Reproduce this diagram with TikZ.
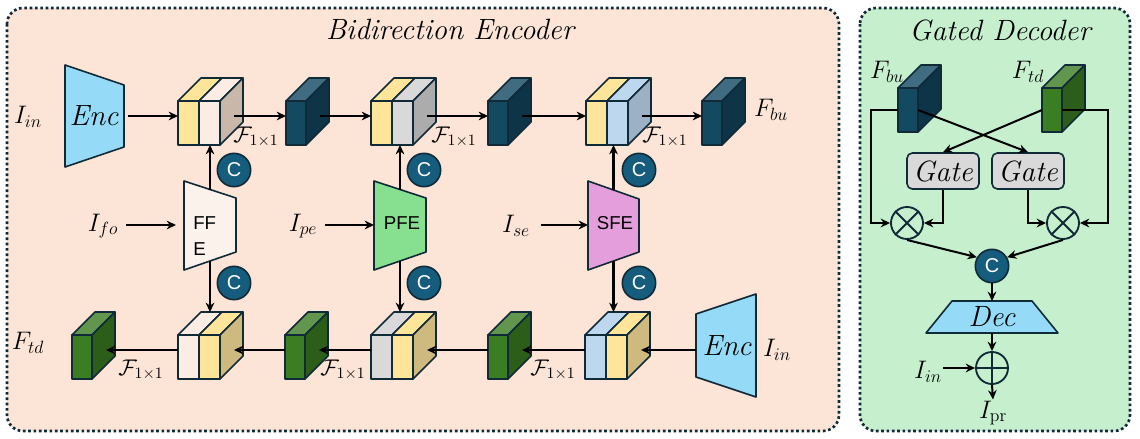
\RequirePackage{fix-cm}
\documentclass[tikz,border=0pt]{standalone}
\usepackage{fontspec}
\newfontfamily\arialfont{Liberation Sans}
\usetikzlibrary{arrows.meta}

% feature cube made of two slabs
\newcommand{\twocube}[6]{%
  \node[slab,#4] (#1a) at (#2,#3) {};
  \node[slab,#5] (#1b) at (#1a.north east) {};
  \draw[outl,#4] (#1a.north west) -- ++(23,-23) -- ++(21,0) -- (#1a.north east) -- cycle;
  \draw[outl,#5] (#1b.north west) -- ++(23,-23) -- ++(21,0) -- (#1b.north east) -- cycle;
  \draw[outl,#6] (#1b.north east) -- ++(23,-23) -- ++(0,44) -- (#1b.south east) -- cycle;
  \path (#1b.north east) ++(14,15) coordinate (#1o);
  \path (#1a.north west) ++(0,-23) coordinate (#1t);
}
% single feature cube
\newcommand{\onecube}[6]{%
  \node[slab,minimum width=15pt,#4] (#1) at (#2,#3) {};
  \draw[outl,#6] (#1.north west) -- ++(23,-23) -- ++(20,0) -- (#1.north east) -- cycle;
  \draw[outl,#5] (#1.north east) -- ++(23,-23) -- ++(0,44) -- (#1.south east) -- cycle;
  \path (#1.north east) ++(14,15) coordinate (#1o);
}

\begin{document}
\begin{tikzpicture}[x=0.75pt,y=0.75pt,yscale=-1,
  outl/.style={draw={rgb, 255:red, 16; green, 42; blue, 56},line width=1.2pt,line join=round},
  slab/.style={outl,anchor=north west,inner sep=0pt,outer sep=0pt,minimum width=15.75pt,minimum height=33pt},
  yel/.style={fill={rgb, 255:red, 255; green, 229; blue, 153}},
  peach/.style={fill={rgb, 255:red, 251; green, 236; blue, 228}},
  peachsd/.style={fill={rgb, 255:red, 201; green, 183; blue, 170}},
  gry/.style={fill={rgb, 255:red, 217; green, 217; blue, 217}},
  grysd/.style={fill={rgb, 255:red, 172; green, 172; blue, 172}},
  lblu/.style={fill={rgb, 255:red, 189; green, 215; blue, 238}},
  lblusd/.style={fill={rgb, 255:red, 156; green, 177; blue, 197}},
  tansd/.style={fill={rgb, 255:red, 206; green, 186; blue, 126}},
  navyf/.style={fill={rgb, 255:red, 20; green, 73; blue, 98}},
  navys/.style={fill={rgb, 255:red, 14; green, 52; blue, 72}},
  navyt/.style={fill={rgb, 255:red, 64; green, 108; blue, 130}},
  grnf/.style={fill={rgb, 255:red, 59; green, 125; blue, 35}},
  grns/.style={fill={rgb, 255:red, 44; green, 94; blue, 26}},
  grnt/.style={fill={rgb, 255:red, 98; green, 150; blue, 78}},
  encblue/.style={fill={rgb, 255:red, 149; green, 219; blue, 247}},
  arr/.style={-{Stealth[length=7pt,width=6.5pt]},line width=1.9pt},
  catc/.style={circle,outl,fill={rgb, 255:red, 22; green, 92; blue, 125},minimum size=25pt,inner sep=0pt,text=white,font=\arialfont\fontsize{15}{17}\selectfont},
  mulop/.style={circle,outl,line width=1.4pt,minimum size=24pt,inner sep=0pt},
  gatebox/.style={outl,rounded corners=4pt,fill={rgb, 255:red, 217; green, 217; blue, 217},minimum width=54pt,minimum height=27pt,inner sep=0pt,font=\fontsize{22}{24}\selectfont\itshape},
  lbl/.style={inner sep=0.75pt,font=\fontsize{19}{22}\selectfont},
  flbl/.style={inner sep=0.75pt,font=\fontsize{17}{19}\selectfont},
  bigit/.style={inner sep=0.75pt,font=\fontsize{22}{24}\selectfont\itshape},
  sanst/.style={inner sep=0.75pt,font=\arialfont\fontsize{14}{20}\selectfont},
  panel/.style={draw={rgb, 255:red, 16; green, 42; blue, 56},line width=2pt,dash pattern=on 2pt off 2pt,rounded corners=12pt}
]
\useasboundingbox (0,0) rectangle (1140,439);

%Shape: Panels
\draw[panel,fill={rgb, 255:red, 252; green, 228; blue, 214}] (7,8) rectangle (839,431);
\draw[panel,fill={rgb, 255:red, 198; green, 239; blue, 206}] (860,8) rectangle (1130,431);
% Text Node
\node[bigit] (tenc) at (450,29) {Bidirection Encoder};
% Text Node
\node[bigit] (tdec) at (1000,30) {Gated Decoder};

%Shape: Encoders
\draw[outl,encblue] (65,65) -- (124,85) -- coordinate (enc1-e) (124,147) -- (65,167) -- cycle;
\node[bigit] (enc1) at (94,116) {Enc};
\draw[outl,encblue] (756,294) -- (756,397) -- (696,377) -- coordinate (enc2-w) (696,314) -- cycle;
\node[bigit] (enc2) at (727,346) {Enc};

%Shape: Feature extractors
\draw[outl,fill={rgb, 255:red, 252; green, 242; blue, 236}] (184,181) -- coordinate (ffe-n) (236,198) -- (236,252) -- coordinate (ffe-s) (184,270) -- cycle;
\coordinate (ffe-w) at (184,225);
\node[sanst,align=left,anchor=west] (ffet) at (192,236) {FF\\E};
\draw[outl,fill={rgb, 255:red, 134; green, 224; blue, 144}] (374,181) -- coordinate (pfe-n) (426,198) -- (426,252) -- coordinate (pfe-s) (374,270) -- cycle;
\coordinate (pfe-w) at (374,225);
\node[sanst] (pfet) at (402,223) {PFE};
\draw[outl,fill={rgb, 255:red, 227; green, 158; blue, 219}] (588,181) -- coordinate (sfe-n) (639,199) -- (639,252) -- coordinate (sfe-s) (588,270) -- cycle;
\coordinate (sfe-w) at (588,225);
\node[sanst] (sfet) at (615,223) {SFE};

%Shape: Cubes, top row
\twocube{u1}{178}{101}{yel}{peach}{peachsd}
\onecube{d1}{286}{101}{navyf}{navys}{navyt}
\twocube{u2}{371}{101}{yel}{gry}{grysd}
\onecube{d2}{488}{101}{navyf}{navys}{navyt}
\twocube{u3}{586}{101}{yel}{lblu}{lblusd}
\onecube{d3}{702}{101}{navyf}{navys}{navyt}
%Shape: Cubes, bottom row
\onecube{g1}{72}{335}{grnf}{grns}{grnt}
\twocube{l1}{178}{335}{peach}{yel}{tansd}
\onecube{g2}{285}{335}{grnf}{grns}{grnt}
\twocube{l2}{371}{335}{gry}{yel}{tansd}
\onecube{g3}{488}{335}{grnf}{grns}{grnt}
\twocube{l3}{585}{335}{lblu}{yel}{tansd}

%Shape: Concat circles
\node[catc] (c1) at (234,170) {C};
\node[catc] (c2) at (424,170) {C};
\node[catc] (c3) at (639,170) {C};
\node[catc] (c4) at (234,283) {C};
\node[catc] (c5) at (424,283) {C};
\node[catc] (c6) at (639,283) {C};

% Text Node
\node[lbl] (iin1) at (28,117) {$I_{in}$};
\node[lbl] (ifo) at (103,226) {$I_{fo}$};
\node[lbl] (ipe) at (303,226) {$I_{pe}$};
\node[lbl] (ise) at (516,226) {$I_{se}$};
\node[lbl] (fbu) at (771,110) {$F_{bu}$};
\node[lbl] (ftd) at (28,343) {$F_{td}$};
\node[lbl] (iin2) at (777,350) {$I_{in}$};
\node[flbl] (f1) at (256,137) {$\mathcal{F}_{1\times1}$};
\node[flbl] (f2) at (454,137) {$\mathcal{F}_{1\times1}$};
\node[flbl] (f3) at (665,137) {$\mathcal{F}_{1\times1}$};
\node[flbl] (f4) at (141,370) {$\mathcal{F}_{1\times1}$};
\node[flbl] (f5) at (343,370) {$\mathcal{F}_{1\times1}$};
\node[flbl] (f6) at (553,370) {$\mathcal{F}_{1\times1}$};

%Straight Lines: bottom-up row
\draw[arr,shorten <=3pt] (enc1-e) -- (enc1-e -| u1a.west);
\draw[arr] (u1o) -- (u1o -| d1.west);
\draw[arr] (d1o) -- (d1o -| u2a.west);
\draw[arr] (u2o) -- (u2o -| d2.west);
\draw[arr] (d2o) -- (d2o -| u3a.west);
\draw[arr] (u3o) -- (u3o -| d3.west);
%Straight Lines: top-down row
\draw[arr] (l3o -| enc2-w) -- (l3o);
\draw[arr] (g3o -| l3a.west) -- (g3o);
\draw[arr] (l2o -| g3.west) -- (l2o);
\draw[arr] (g2o -| l2a.west) -- (g2o);
\draw[arr] (l1o -| g2.west) -- (l1o);
\draw[arr] (g1o -| l1a.west) -- (g1o);
%Straight Lines: inputs and concats
\draw[arr,shorten <=5pt,shorten >=6pt] (ifo.east |- ffe-w) -- (ffe-w);
\draw[arr,shorten <=5pt] (ipe.east |- pfe-w) -- (pfe-w);
\draw[arr,shorten <=7pt] (ise.east |- sfe-w) -- (sfe-w);
\draw[arr] (ffe-n) -- (ffe-n |- u1b.south);
\draw[arr] (pfe-n) -- (pfe-n |- u2b.south);
\draw[arr] (sfe-n) -- (sfe-n |- u3b.south);
\draw[arr] (ffe-s) -- (ffe-s |- l1t);
\draw[arr] (pfe-s) -- (pfe-s |- l2t);
\draw[arr] (sfe-s) -- (sfe-s |- l3t);

%Shape: Gated decoder
\onecube{bu}{898}{88}{navyf}{navys}{navyt}
\onecube{td}{1042}{88}{grnf}{grns}{grnt}
\node[lbl] (lbu) at (887,72) {$F_{bu}$};
\node[lbl] (ltd) at (1028,72) {$F_{td}$};
\node[gatebox] (gl) at (943,171) {Gate};
\node[gatebox] (gr) at (1028,171) {Gate};
\node[mulop] (xl) at (907,223) {};
\draw[outl,line width=1.4pt] (xl.45) -- (xl.225) (xl.135) -- (xl.315);
\node[mulop] (xr) at (1063,223) {};
\draw[outl,line width=1.4pt] (xr.45) -- (xr.225) (xr.135) -- (xr.315);
\node[catc] (cm) at (992,266) {C};
\draw[outl,encblue] (952,301) -- coordinate (dec-n) (1032,301) -- (1058,333) -- coordinate (dec-s) (926,333) -- cycle;
\node[bigit] (dec) at (992,317) {Dec};
\node[mulop] (pl) at (992,368) {};
\draw[outl,line width=1.4pt] (pl.north) -- (pl.south) (pl.west) -- (pl.east);
\node[lbl] (iin3) at (928,372) {$I_{in}$};
\node[lbl] (ipr) at (993,413) {$I_{\mathrm{pr}}$};
\coordinate (lrail) at (871,223);
\coordinate (rrail) at (1108,223);

%Straight Lines: gated decoder
\draw[arr,line width=1.5pt] (bu.west) -| (lrail) -- (xl.west);
\draw[arr,line width=1.5pt] (td.east) -| (rrail) -- (xr.east);
\draw[arr,line width=1.5pt] (bu.east) -- (gr.north);
\draw[arr,line width=1.5pt] (td.west) -- (gl.north);
\draw[arr,line width=1.5pt] (gl.south) |- (xl.east);
\draw[arr,line width=1.5pt] (gr.south) |- (xr.west);
\draw[arr,line width=1.5pt] (xl.south) -- (cm.150);
\draw[arr,line width=1.5pt] (xr.south) -- (cm.30);
\draw[arr,line width=1.5pt] (cm.south) -- (dec-n);
\draw[arr,line width=1.5pt] (dec-s) -- (pl.north);
\draw[arr,line width=1.5pt] (iin3.east |- pl.west) -- (pl.west);
\draw[arr,line width=1.5pt] (pl.south) -- (ipr.north);
\end{tikzpicture}
\end{document}
